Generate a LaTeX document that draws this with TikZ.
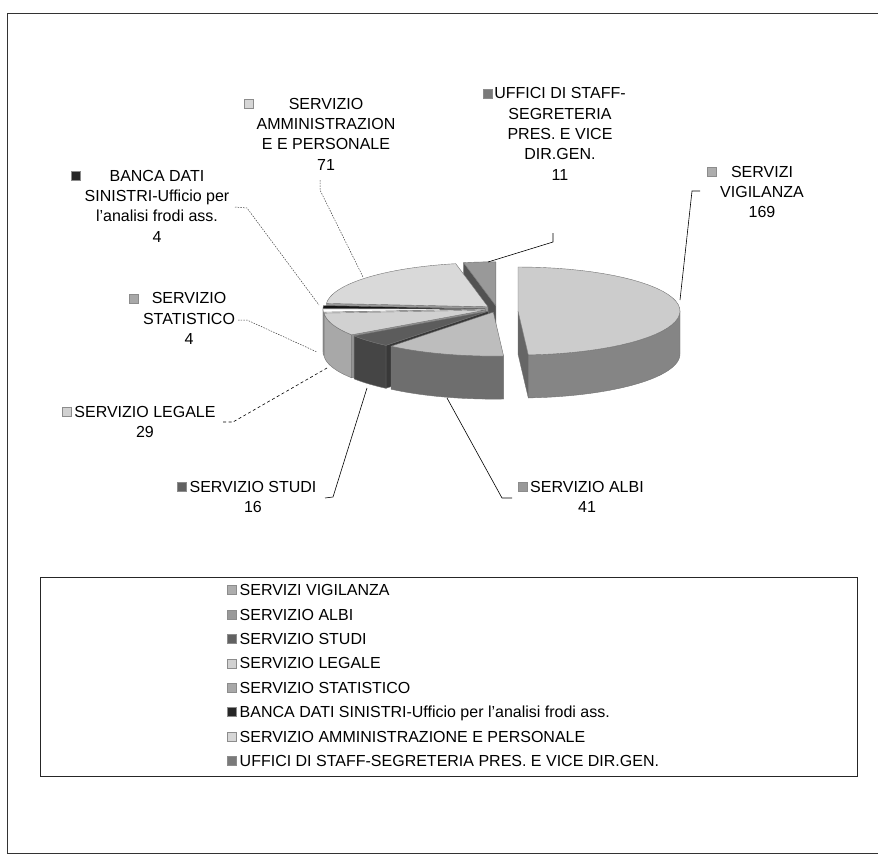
\documentclass[tikz,border=0pt]{standalone}
\usepackage{fontspec}
\setmainfont{Liberation Sans}
\definecolor{vigT}{gray}{0.80}\definecolor{vigS}{gray}{0.52}\definecolor{vigW}{gray}{0.40}
\definecolor{albT}{gray}{0.74}\definecolor{albS}{gray}{0.43}
\definecolor{stuT}{gray}{0.36}\definecolor{stuS}{gray}{0.27}\definecolor{stuW}{gray}{0.22}
\definecolor{legT}{gray}{0.82}\definecolor{legS}{gray}{0.66}\definecolor{legW}{gray}{0.58}
\definecolor{staT}{gray}{1.00}\definecolor{staS}{gray}{0.97}
\definecolor{banT}{gray}{0.08}
\definecolor{ammT}{gray}{0.85}\definecolor{ammW}{gray}{0.60}
\definecolor{uffT}{gray}{0.60}\definecolor{uffW}{gray}{0.32}
\definecolor{kVig}{gray}{0.68}\definecolor{kAlb}{gray}{0.60}\definecolor{kStu}{gray}{0.38}
\definecolor{kLeg}{gray}{0.82}\definecolor{kSta}{gray}{0.66}\definecolor{kBan}{gray}{0.15}
\definecolor{kAmm}{gray}{0.84}\definecolor{kUff}{gray}{0.48}
\def\pieRA{162}\def\pieRB{44}\def\pieDP{43}
\newcommand\pietop[5]{%
  \filldraw[pieedge,fill=#5] ({#1},{#2}) -- plot[domain=#3:#4,samples=40] ({#1+\pieRA*cos(\x)},{#2-\pieRB*sin(\x)}) -- cycle;}
\newcommand\pieside[5]{%
  \filldraw[pieedge,fill=#5] plot[domain=#3:#4,samples=40] ({#1+\pieRA*cos(\x)},{#2-\pieRB*sin(\x)}) -- plot[domain=#4:#3,samples=40] ({#1+\pieRA*cos(\x)},{#2+\pieDP-\pieRB*sin(\x)}) -- cycle;}
\newcommand\piewall[4]{%
  \filldraw[pieedge,fill=#4] ({#1},{#2}) -- ({#1+\pieRA*cos(#3)},{#2-\pieRB*sin(#3)}) -- ({#1+\pieRA*cos(#3)},{#2+\pieDP-\pieRB*sin(#3)}) -- ({#1},{#2+\pieDP}) -- cycle;}
\begin{document}
\begin{tikzpicture}[x=1pt,y=-1pt,
  lbl/.style={align=center,inner sep=0pt,font=\fontsize{16}{20.3}\selectfont},
  keysq/.style={draw=black!45,line width=0.3pt,minimum size=9pt,inner sep=0pt,anchor=north east},
  legkey/.style={draw=black!45,line width=0.3pt,minimum size=9pt,inner sep=0pt,anchor=center},
  legtext/.style={anchor=west,inner sep=0pt,text height=11.5pt,text depth=0pt,font=\fontsize{16}{19}\selectfont},
  pieedge/.style={draw=black!55,line width=0.4pt,line join=round},
  solidlead/.style={draw=black,line width=0.6pt},
  finelead/.style={draw=black!75,line width=0.5pt,dash pattern=on 1.5pt off 1.2pt},
  dashlead/.style={draw=black,line width=0.6pt,dash pattern=on 3pt off 2.5pt},
  framestyle/.style={draw=black!80,line width=0.8pt}]
\useasboundingbox (0,0) rectangle (878,865);
% outer frame
\draw[framestyle] (878,13) -- (7,13) -- (7,853) -- (878,853);
% ---------- pie ----------
% UFFICI
\piewall{495.8}{305.8}{101.48}{uffW}
\pietop{495.8}{305.8}{90}{101.48}{uffT}
% AMMINISTRAZIONE
\piewall{488}{306.8}{175.57}{ammW}
\pietop{488}{306.8}{101.48}{175.57}{ammT}
% BANCA DATI
\piewall{485}{308.9}{179.74}{banT}
\pietop{485}{308.9}{175.57}{179.74}{banT}
% STATISTICO
\piewall{485}{309.1}{-176.09}{staS}
\pieside{485}{309.1}{-180.26}{-176.09}{staS}
\pietop{485}{309.1}{-180.26}{-176.09}{staT}
% LEGALE
\piewall{485.7}{310.1}{-145.83}{legW}
\pieside{485.7}{310.1}{-176.09}{-145.83}{legS}
\pietop{485.7}{310.1}{-176.09}{-145.83}{legT}
% STUDI
\piewall{488.2}{311.2}{-129.13}{stuW}
\pieside{488.2}{311.2}{-145.83}{-129.13}{stuS}
\pietop{488.2}{311.2}{-145.83}{-129.13}{stuT}
% ALBI
\pieside{493.3}{312.1}{-129.13}{-86.35}{albS}
\pietop{493.3}{312.1}{-129.13}{-86.35}{albT}
% VIGILANZA (exploded)
\piewall{518}{311}{-86.35}{vigW}
\pieside{518}{311}{-86.35}{0}{vigS}
\pietop{518}{311}{-86.35}{90}{vigT}
% ---------- data labels ----------
\node[lbl] (lvig) at (762,192) {SERVIZI\\VIGILANZA\\169};
\node[keysq,fill=kVig] (kvig) at ([xshift=-4pt,yshift=-1.3pt]lvig.north west) {};
\node[lbl] (luff) at (560,134) {UFFICI DI STAFF-\\SEGRETERIA\\PRES. E VICE\\DIR.GEN.\\11};
\node[keysq,fill=kUff] (kuff) at ([xshift=-2pt,yshift=-1.3pt]luff.north west) {};
\node[lbl] (lamm) at (326,134) {SERVIZIO\\AMMINISTRAZION\\E E PERSONALE\\71};
\node[keysq,fill=kAmm] (kamm) at ([xshift=-3pt,yshift=-1.3pt]lamm.north west) {};
\node[lbl] (lban) at (157,206) {BANCA DATI\\SINISTRI-Ufficio per\\l'analisi frodi ass.\\4};
\node[keysq,fill=kBan] (kban) at ([xshift=-4pt,yshift=-1.3pt]lban.north west) {};
\node[lbl] (lsta) at (189,318.5) {SERVIZIO\\STATISTICO\\4};
\node[keysq,fill=kSta] (ksta) at ([xshift=-5pt,yshift=-1.3pt]lsta.north west) {};
\node[lbl] (lleg) at (145,422) {SERVIZIO LEGALE\\29};
\node[keysq,fill=kLeg] (kleg) at ([xshift=-3pt,yshift=-1.3pt]lleg.north west) {};
\node[lbl] (lstu) at (253,497) {SERVIZIO STUDI\\16};
\node[keysq,fill=kStu] (kstu) at ([xshift=-3pt,yshift=-1.3pt]lstu.north west) {};
\node[lbl] (lalb) at (587,497) {SERVIZIO ALBI\\41};
\node[keysq,fill=kAlb] (kalb) at ([xshift=-3pt,yshift=-1.3pt]lalb.north west) {};
% ---------- leader lines ----------
\coordinate (vigA) at (700,191); \coordinate (vigB) at (692,191); \coordinate (vigC) at (680,300);
\coordinate (uffA) at (553,233); \coordinate (uffB) at (553,242); \coordinate (uffC) at (488,262);
\coordinate (ammA) at (320,180); \coordinate (ammB) at (320,190); \coordinate (ammC) at (363,277);
\coordinate (banA) at (235,207); \coordinate (banB) at (247,208); \coordinate (banC) at (319,305);
\coordinate (staA) at (238,320); \coordinate (staB) at (247,320); \coordinate (staC) at (317,352);
\coordinate (legA) at (223,422); \coordinate (legB) at (233,422); \coordinate (legC) at (327,368);
\coordinate (stuA) at (325,498); \coordinate (stuB) at (333,497); \coordinate (stuC) at (367,388);
\coordinate (albA) at (512,498); \coordinate (albB) at (502,498); \coordinate (albC) at (447,398);
\draw[solidlead] (vigA) -- (vigB) -- (vigC);
\draw[solidlead] (uffA) -- (uffB) -- (uffC);
\draw[finelead] (ammA) -- (ammB) -- (ammC);
\draw[finelead] (banA) -- (banB) -- (banC);
\draw[finelead] (staA) -- (staB) -- (staC);
\draw[dashlead] (legA) -- (legB) -- (legC);
\draw[solidlead] (stuA) -- (stuB) -- (stuC);
\draw[solidlead] (albA) -- (albB) -- (albC);
% ---------- legend ----------
\node[draw=black!85,line width=0.7pt,minimum width=817pt,minimum height=199pt,inner sep=0pt] (legbox) at (448.5,676.5) {};
\node[legkey,fill=kVig] (lk1) at (231.5,590) {};
\node[legtext] (lt1) at (239.5,590) {SERVIZI VIGILANZA};
\node[legkey,fill=kAlb] (lk2) at (231.5,614.4) {};
\node[legtext] (lt2) at (239.5,614.4) {SERVIZIO ALBI};
\node[legkey,fill=kStu] (lk3) at (231.5,638.8) {};
\node[legtext] (lt3) at (239.5,638.8) {SERVIZIO STUDI};
\node[legkey,fill=kLeg] (lk4) at (231.5,663.2) {};
\node[legtext] (lt4) at (239.5,663.2) {SERVIZIO LEGALE};
\node[legkey,fill=kSta] (lk5) at (231.5,687.6) {};
\node[legtext] (lt5) at (239.5,687.6) {SERVIZIO STATISTICO};
\node[legkey,fill=kBan] (lk6) at (231.5,712) {};
\node[legtext] (lt6) at (239.5,712) {BANCA DATI SINISTRI-Ufficio per l'analisi frodi ass.};
\node[legkey,fill=kAmm] (lk7) at (231.5,736.4) {};
\node[legtext] (lt7) at (239.5,736.4) {SERVIZIO AMMINISTRAZIONE E PERSONALE};
\node[legkey,fill=kUff] (lk8) at (231.5,760.8) {};
\node[legtext] (lt8) at (239.5,760.8) {UFFICI DI STAFF-SEGRETERIA PRES. E VICE DIR.GEN.};
\end{tikzpicture}
\end{document}
